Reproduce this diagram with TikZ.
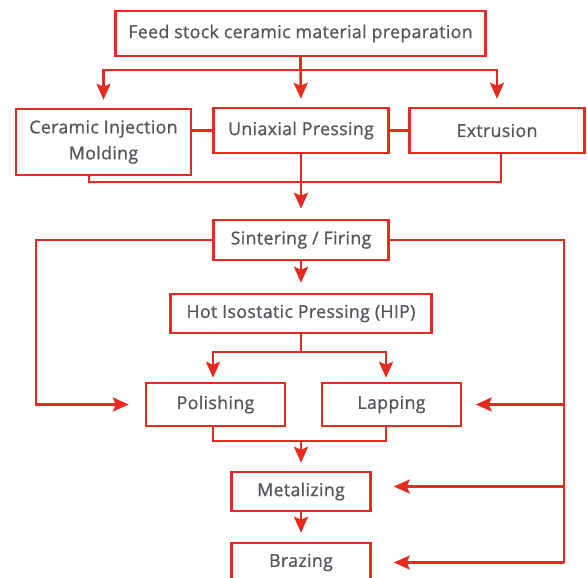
\documentclass[tikz,border=0pt]{standalone}
\usepackage{fontspec}
\newfontfamily\flowfont{Open Sans}[FakeBold=0.9, LetterSpace=1.8]
\usepackage{xcolor}
\usetikzlibrary{arrows.meta}
\definecolor{flowred}{HTML}{E8291F}
\definecolor{flowtext}{HTML}{55565B}

\begin{document}
\begin{tikzpicture}[x=1pt, y=-1pt, every node/.style={align=center, text=flowtext, font=\flowfont\fontsize{17.8}{26}\selectfont},
box/.style={draw=flowred, line width=2.5pt, inner sep=0pt, minimum height=#1},
box/.default=45pt,
link/.style={draw=flowred, line width=2.5pt},
arr/.style={link, -{Stealth[length=16pt, width=14pt, inset=3pt]}}]
\useasboundingbox (0,0) rectangle (587,578);
\node[box, minimum width=370pt] (feed) at (300.5,33.5) {Feed stock ceramic material preparation};
\node[box=66pt, minimum width=175pt] (cim) at (103.5,142) {Ceramic Injection\\Molding};
\node[box, minimum width=175pt] (uni) at (301,130.5) {Uniaxial Pressing};
\node[box, minimum width=175pt] (ext) at (497,130.5) {Extrusion};
\node[box=40pt, minimum width=175pt] (sint) at (301,240) {Sintering / Firing};
\node[box=39pt, minimum width=261pt] (hip) at (301,313.5) {Hot Isostatic Pressing (HIP)};
\node[box=43pt, minimum width=139pt] (pol) at (215.5,404.5) {Polishing};
\node[box=43pt, minimum width=139pt] (lap) at (391.5,404.5) {Lapping};
\node[box=39pt, minimum width=139pt] (met) at (301,491.5) {Metalizing};
\node[box=39pt, minimum width=139pt] (braz) at (301,562.5) {Brazing};
\coordinate (split1) at (300.5,70);
\coordinate (join1) at (301,182);
\coordinate (split2) at (301,352);
\coordinate (join2) at (301,441);
\coordinate (lft) at (36,0);
\coordinate (rgt) at (564,0);
\draw[link] (feed.south) -- (split1);
\draw[arr, shorten >=8pt] (split1) -| (cim.north);
\draw[arr, shorten >=8pt] (split1) -- (uni.north);
\draw[arr, shorten >=8pt] (split1) -| (ext.north);
\draw[link] (uni.west) -- (uni.west -| cim.east);
\draw[link] (uni.east) -- (ext.west);
\draw[link] ([xshift=-14.5pt]cim.south) |- (join1) -| ([xshift=4pt]ext.south);
\draw[arr, shorten >=10pt] (uni.south) -- (sint.north);
\draw[arr, shorten >=10pt] (sint.south) -- (hip.north);
\draw[arr, shorten >=16pt] (sint.west) -- (sint.west -| lft) |- (pol.west);
\draw[link] (sint.east) -| (rgt |- braz.east);
\draw[arr, shorten >=13.5pt] (rgt |- lap.east) -- (lap.east);
\draw[arr, shorten >=22pt] (rgt |- met.east) ++(0,-5) -- ([yshift=5pt]met.east);
\draw[arr, shorten >=22pt] (rgt |- braz.east) -- (braz.east);
\draw[link] (hip.south) -- (split2);
\draw[arr, shorten >=4pt] (split2) -| ([xshift=-2.5pt]pol.north);
\draw[arr, shorten >=4pt] (split2) -| ([xshift=-5.5pt]lap.north);
\draw[link] ([xshift=-2.5pt]pol.south) |- (join2) -| ([xshift=-5.5pt]lap.south);
\draw[arr, shorten >=8pt] (join2) -- (met.north);
\draw[arr, shorten >=9pt] (met.south) -- (braz.north);
\end{tikzpicture}
\end{document}
